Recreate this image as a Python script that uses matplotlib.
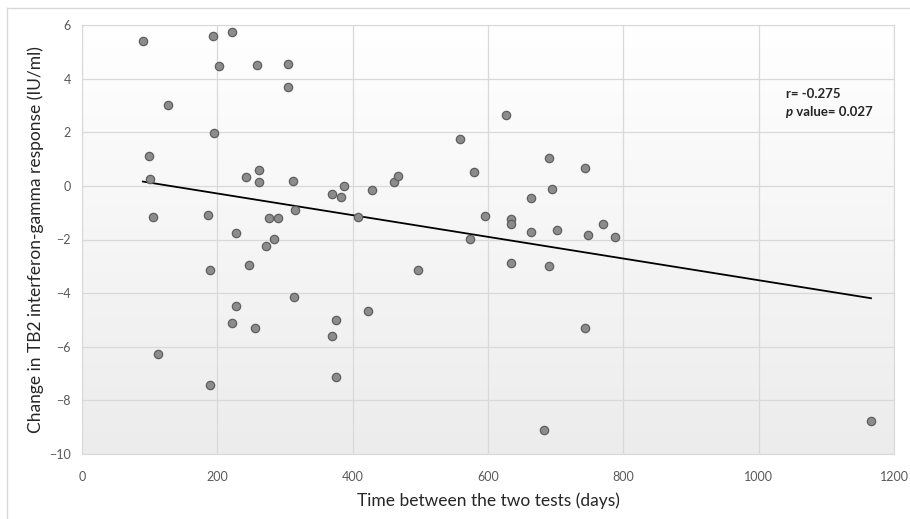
import numpy as np
import matplotlib
matplotlib.use('Agg')
import matplotlib.pyplot as plt
from matplotlib.lines import Line2D

plt.rcParams['font.family'] = ['Lato', 'DejaVu Sans']

# days between tests vs change in TB2 response
days = [90, 98.5, 100.5, 105, 127.6, 193.6, 195.5, 186, 202, 221.7,
        241.9, 259, 261, 261, 227.6, 277, 289.6, 283.7, 272, 304.4,
        304.4, 312, 314.8, 369, 382.7, 386.7, 407.4, 188.7, 247.3, 312.8,
        227.6, 221.7, 255.2, 374.9, 370, 112.3, 188.7, 374.9,
        626, 558.6, 690.6, 743, 579.7, 428.5, 460.6, 467, 695, 663,
        595.5, 634.4, 634.4, 663, 701.5, 770.4, 747.7, 788, 573.4, 496,
        634.4, 690.6, 422, 744, 682.7, 1166]
change = [5.41, 1.10, 0.26, -1.17, 3.03, 5.58, 1.96, -1.10, 4.48, 5.75,
          0.34, 4.50, 0.61, 0.16, -1.75, -1.19, -1.21, -1.97, -2.25, 4.55,
          3.69, 0.17, -0.90, -0.29, -0.41, 0.01, -1.17, -3.15, -2.95, -4.14,
          -4.49, -5.13, -5.31, -5.00, -5.61, -6.26, -7.44, -7.12,
          2.65, 1.76, 1.04, 0.66, 0.51, -0.15, 0.16, 0.38, -0.10, -0.45,
          -1.12, -1.23, -1.43, -1.72, -1.64, -1.44, -1.84, -1.92, -1.99, -3.15,
          -2.87, -3.00, -4.68, -5.30, -9.12, -8.78]

x = np.array(days)
y = np.array(change)
slope, icpt = np.polyfit(x, y, 1)
xl = np.array([x.min(), x.max()])

fig = plt.figure(figsize=(9.1, 5.19), dpi=100)
ax = fig.add_axes([82/910, 1-454/519, 812/910, 429/519])

# excel-like gradient in the plot area
grad = np.linspace(1, 0, 256).reshape(-1, 1)
ax.imshow(grad, extent=[0, 1, 0, 1], transform=ax.transAxes, aspect='auto',
          cmap=matplotlib.colors.LinearSegmentedColormap.from_list('g', ['#ececec', '#ffffff']),
          zorder=0)

ax.set_xlim(0, 1200)
ax.set_ylim(-10, 6)
ax.set_xticks(np.arange(0, 1201, 200))
ax.set_yticks(np.arange(-10, 7, 2))
ax.grid(True, color='#d9d9d9', linewidth=0.9, zorder=1)
ax.set_axisbelow(True)
for s in ax.spines.values():
    s.set_color('#d9d9d9')
ax.tick_params(length=0, labelsize=9, colors='#595959')
ax.tick_params(axis='x', pad=12)
ax.tick_params(axis='y', pad=8)

ax.plot(xl, slope*xl + icpt, color='black', linewidth=1.3, zorder=3)
ax.scatter(x, y, s=36, color='#8c8c8c', edgecolors='#5f5f5f', linewidths=0.9, zorder=4)

ax.text(1040, 3.41, 'r= -0.275', fontsize=9.5, fontweight='bold', color='#262626',
        va='center', zorder=5)
t = ax.text(1040, 2.77, 'p', fontsize=9.5, fontweight='bold', fontstyle='italic',
            color='#262626', va='center', zorder=5)
ax.annotate(' value= 0.027', xy=(1, 0), xycoords=t, va='bottom', fontsize=9.5,
            fontweight='bold', color='#262626', zorder=5)

ax.set_xlabel('Time between the two tests (days)', fontsize=12.5, color='#262626', labelpad=7)
ax.set_ylabel('Change in TB2 interferon-gamma response (IU/ml)', fontsize=12.5, color='#262626', labelpad=4)

fig.add_artist(Line2D([7/910, 7/910], [0, 1-8/519], color='#d9d9d9', linewidth=1))
fig.add_artist(Line2D([7/910, 1], [1-8/519, 1-8/519], color='#d9d9d9', linewidth=1))

fig.savefig('out.png', dpi=100)
